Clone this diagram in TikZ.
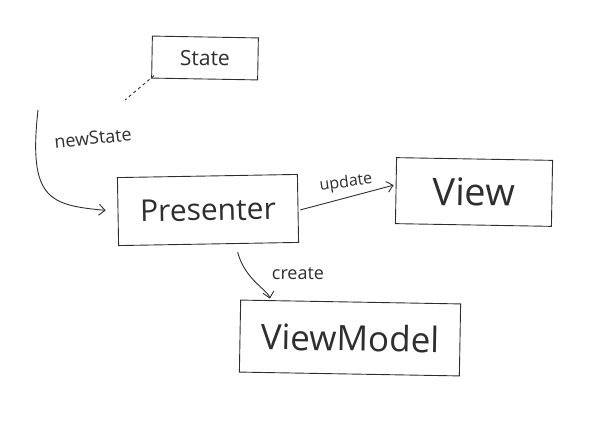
\documentclass[tikz,border=0pt]{standalone}
\usepackage{fontspec}
\setmainfont{Open Sans}
\usetikzlibrary{arrows.meta}
\definecolor{ink}{HTML}{2E2E2E}
\tikzset{
  box/.style={draw=ink, line width=0.9pt, inner sep=0pt, text=ink},
  lbl/.style={text=ink, inner sep=1pt},
  conn/.style={draw=ink, line width=0.9pt, -{Straight Barb[length=6pt,width=11pt]}},
}
\begin{document}
\begin{tikzpicture}[x=1pt,y=-1pt]
\useasboundingbox (0,0) rectangle (604,425);
\node[box, minimum width=106pt, minimum height=42pt, rotate=-1, font=\fontsize{21}{21}\selectfont] (State) at (205,58) {State};
\node[box, minimum width=180pt, minimum height=68pt, rotate=1, font=\fontsize{30}{30}\selectfont] (Presenter) at (208,210) {Presenter};
\node[box, minimum width=156pt, minimum height=66pt, rotate=-1, font=\fontsize{38}{38}\selectfont] (View) at (474,192) {View};
\node[box, minimum width=220pt, minimum height=72pt, rotate=-1, font=\fontsize{35}{35}\selectfont] (ViewModel) at (350,338) {ViewModel};
\coordinate (dashend) at (125,100);
\coordinate (nsstart) at (38,110);
\draw[draw=ink, line width=0.9pt, dashed] ([xshift=3pt,yshift=3pt]State.south west) -- (dashend);
\draw[conn, shorten >=12pt] (nsstart) .. controls (28,200) and (50,205) .. (Presenter.west);
\node[lbl, rotate=6, font=\fontsize{18}{18}\selectfont] (nslbl) at (93,138) {newState};
\draw[conn, shorten >=2pt, shorten <=2pt] ([yshift=-2pt]Presenter.east) -- ([yshift=6pt]View.west);
\node[lbl, rotate=8, font=\fontsize{16}{16}\selectfont] (uplbl) at (346,183) {update};
\draw[conn, shorten <=8pt, shorten >=3pt] ([xshift=27pt]Presenter.south) .. controls (245,280) and (268,290) .. ([xshift=-80pt]ViewModel.north);
\node[lbl, font=\fontsize{18}{18}\selectfont] (crlbl) at (298,274) {create};
\end{tikzpicture}
\end{document}
